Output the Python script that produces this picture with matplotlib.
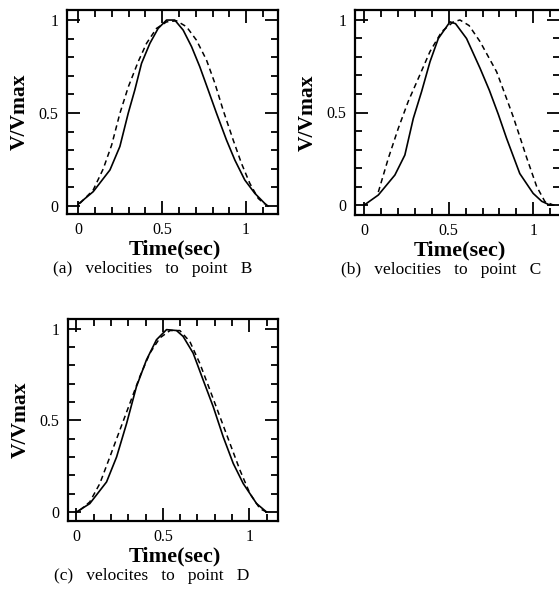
import matplotlib
matplotlib.use("Agg")
import matplotlib.pyplot as plt
from matplotlib.ticker import MultipleLocator, FixedLocator

W, H = 559, 595

# ---- data (time in sec, V/Vmax) ----
a_solid_t = [0.0, 0.089, 0.189, 0.248, 0.298, 0.337, 0.377, 0.427, 0.476, 0.526, 0.575,
             0.625, 0.675, 0.724, 0.774, 0.824, 0.883, 0.933, 0.992, 1.052, 1.111, 1.13]
a_solid_v = [0.01, 0.077, 0.194, 0.32, 0.5, 0.624, 0.767, 0.875, 0.955, 1.0, 1.0,
             0.946, 0.857, 0.749, 0.624, 0.498, 0.355, 0.247, 0.14, 0.068, 0.014, 0.0]
a_dash_t = [0.01, 0.089, 0.149, 0.199, 0.248, 0.298, 0.357, 0.407, 0.466, 0.526, 0.585,
            0.645, 0.704, 0.764, 0.814, 0.863, 0.923, 0.972, 1.022, 1.072, 1.111]
a_dash_v = [0.014, 0.086, 0.2, 0.328, 0.498, 0.64, 0.776, 0.875, 0.955, 0.99, 0.996,
            0.964, 0.892, 0.785, 0.66, 0.516, 0.355, 0.23, 0.122, 0.041, 0.01]

b_solid_t = [0.0, 0.083, 0.181, 0.24, 0.29, 0.339, 0.389, 0.438, 0.507, 0.54, 0.605,
             0.685, 0.74, 0.793, 0.842, 0.92, 0.999, 1.05, 1.097, 1.12]
b_solid_v = [0.0, 0.054, 0.162, 0.27, 0.468, 0.613, 0.775, 0.90, 0.99, 0.98, 0.90,
             0.739, 0.62, 0.49, 0.36, 0.17, 0.063, 0.02, 0.0, 0.0]
b_dash_t = [0.083, 0.142, 0.201, 0.26, 0.32, 0.389, 0.458, 0.527, 0.566, 0.62, 0.685,
            0.783, 0.84, 0.88, 0.92, 0.961, 1.02, 1.069, 1.118]
b_dash_v = [0.07, 0.252, 0.414, 0.56, 0.685, 0.83, 0.937, 0.99, 1.0, 0.97, 0.883,
            0.72, 0.58, 0.48, 0.37, 0.255, 0.10, 0.018, 0.0]

c_solid_t = [0.0, 0.077, 0.174, 0.232, 0.29, 0.347, 0.405, 0.463, 0.521, 0.579, 0.617,
             0.675, 0.733, 0.791, 0.849, 0.907, 0.965, 1.042, 1.1]
c_solid_v = [0.0, 0.046, 0.164, 0.30, 0.483, 0.684, 0.83, 0.94, 0.995, 0.99, 0.958,
             0.867, 0.72, 0.575, 0.41, 0.265, 0.155, 0.046, 0.0]
c_dash_t = [0.02, 0.077, 0.135, 0.193, 0.251, 0.309, 0.367, 0.425, 0.483, 0.541, 0.598,
            0.656, 0.714, 0.772, 0.83, 0.888, 0.946, 1.004, 1.062, 1.1]
c_dash_v = [0.01, 0.055, 0.155, 0.30, 0.447, 0.593, 0.74, 0.867, 0.95, 0.99, 0.99,
            0.93, 0.81, 0.666, 0.52, 0.374, 0.228, 0.10, 0.018, 0.0]

captions = ["(a)   velocities   to   point   B",
            "(b)   velocities   to   point   C",
            "(c)   velocites   to   point   D"]

serif = "Liberation Serif"


def fx(x):
    return x / W


def fy(y):
    return 1 - y / H


fig = plt.figure(figsize=(W / 100, H / 100), dpi=100)

# axes boxes in pixels: left, top, right, bottom ; plus limits
panels = [
    dict(box=(67, 10, 278, 214), xlim=(-0.067, 1.19), ylim=(-0.043, 1.054),
         t=(a_solid_t, a_solid_v, a_dash_t, a_dash_v)),
    dict(box=(355, 10, 560, 215), xlim=(-0.055, 1.158), ylim=(-0.054, 1.054),
         t=(b_solid_t, b_solid_v, b_dash_t, b_dash_v)),
    dict(box=(68, 319, 278, 521), xlim=(-0.049, 1.166), ylim=(-0.049, 1.053),
         t=(c_solid_t, c_solid_v, c_dash_t, c_dash_v)),
]

for i, p in enumerate(panels):
    l, t, r, b = p["box"]
    ax = fig.add_axes([fx(l), fy(b), (r - l) / W, (b - t) / H])
    st, sv, dt, dv = p["t"]
    ax.plot(st, sv, color="black", lw=1.2)
    ax.plot(dt, dv, color="black", lw=1.1, linestyle=(0, (3.5, 2.5)))
    ax.set_xlim(*p["xlim"])
    ax.set_ylim(*p["ylim"])
    ax.xaxis.set_major_locator(FixedLocator([0, 0.5, 1]))
    ax.yaxis.set_major_locator(FixedLocator([0, 0.5, 1]))
    ax.xaxis.set_minor_locator(MultipleLocator(0.1))
    ax.yaxis.set_minor_locator(MultipleLocator(0.1))
    ax.set_xticklabels(["0", "0.5", "1"], fontfamily=serif, fontsize=11.5)
    ax.set_yticklabels(["0", "0.5", "1"], fontfamily=serif, fontsize=11.5)
    ax.tick_params(which="both", direction="in", top=True, right=True, width=1.3)
    ax.tick_params(which="major", length=9.5)
    ax.tick_params(which="minor", length=5)
    ax.tick_params(axis="x", which="major", pad=6)
    ax.tick_params(axis="y", which="major", pad=6)
    for s in ax.spines.values():
        s.set_linewidth(1.6)

    # labels and caption
    cx = (l + r) / 2
    fig.text(fx(l - 47), fy((t + b) / 2), "V/Vmax", rotation=90, ha="center", va="center",
             fontfamily=serif, fontweight="bold", fontsize=15.5)
    fig.text(fx(cx + 2), fy(b + 35), "Time(sec)", ha="center", va="center",
             fontfamily=serif, fontweight="bold", fontsize=16)
    fig.text(fx(l - 14), fy(b + 55), captions[i], ha="left", va="center",
             fontfamily=serif, fontsize=12.5)

fig.savefig("out.png", dpi=100)
